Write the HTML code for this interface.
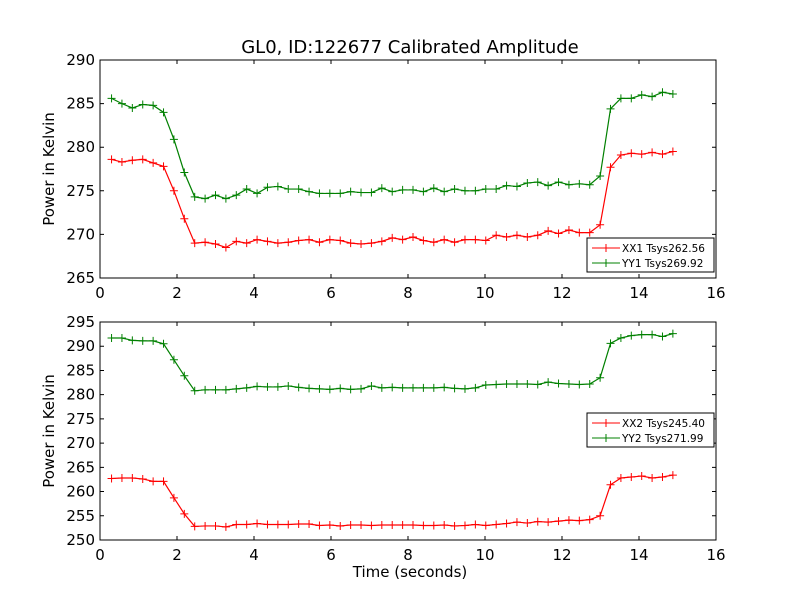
<!DOCTYPE html>
<html><head><meta charset="utf-8"><style>
body{margin:0;background:#fff}
svg text{font-family:"DejaVu Sans","Liberation Sans",sans-serif}
</style></head><body>
<svg id="c" width="800" height="600" xmlns="http://www.w3.org/2000/svg">
<rect width="800" height="600" fill="#fff"/>
</svg>
<script>
const times = Array.from({length:55},(_, i)=>+(0.3+i*0.27).toFixed(3));
const xx1 = [278.6,278.3,278.5,278.6,278.2,277.8,275.0,271.8,269.0,269.1,
268.9,268.5,269.2,269.0,269.4,269.2,269.0,269.1,269.3,269.4,
269.1,269.4,269.3,269.0,268.9,269.0,269.2,269.6,269.4,269.7,
269.3,269.1,269.4,269.1,269.4,269.4,269.3,269.9,269.7,269.9,
269.7,269.9,270.4,270.1,270.5,270.2,270.2,271.1,277.7,279.1,
279.3,279.2,279.4,279.2,279.5];
const yy1 = [285.6,285.0,284.5,284.9,284.8,284.0,280.9,277.1,274.3,274.1,
274.5,274.1,274.5,275.2,274.7,275.4,275.5,275.2,275.2,274.9,
274.7,274.7,274.7,274.9,274.8,274.8,275.3,274.9,275.1,275.1,
274.9,275.3,274.9,275.2,275.0,275.0,275.2,275.2,275.6,275.5,
275.9,276.0,275.6,276.0,275.7,275.8,275.7,276.7,284.4,285.6,
285.6,286.0,285.8,286.3,286.1];
const xx2 = [262.7,262.8,262.8,262.6,262.1,262.1,258.7,255.4,252.8,252.9,
252.9,252.7,253.2,253.2,253.4,253.2,253.2,253.2,253.3,253.3,
253.0,253.1,252.9,253.1,253.1,253.0,253.1,253.1,253.1,253.1,
253.0,253.0,253.1,252.9,253.0,253.2,253.0,253.2,253.4,253.7,
253.5,253.8,253.7,253.9,254.1,254.0,254.2,255.0,261.4,262.8,
263.0,263.2,262.8,263.0,263.4];
const yy2 = [291.7,291.7,291.2,291.1,291.1,290.5,287.2,283.9,280.8,281.0,
281.0,281.0,281.2,281.4,281.7,281.6,281.6,281.8,281.5,281.3,
281.2,281.1,281.3,281.1,281.2,281.8,281.4,281.5,281.4,281.4,
281.4,281.4,281.5,281.3,281.2,281.4,282.0,282.1,282.2,282.2,
282.2,282.1,282.6,282.3,282.2,282.1,282.2,283.5,290.6,291.7,
292.2,292.4,292.4,292.0,292.6];
const xTicks = [0,2,4,6,8,10,12,14,16];
const yTicksTop = [265,270,275,280,285,290];
const yTicksBot = [250,255,260,265,270,275,280,285,290,295];
const legendTop = ["XX1 Tsys262.56","YY1 Tsys269.92"];
const legendBot = ["XX2 Tsys245.40","YY2 Tsys271.99"];

const NS="http://www.w3.org/2000/svg", svg=document.getElementById('c');
function el(tag,attrs,parent){const e=document.createElementNS(NS,tag);for(const k in attrs)e.setAttribute(k,attrs[k]);(parent||svg).appendChild(e);return e;}
function txt(s,attrs,parent){const t=el('text',attrs,parent);t.textContent=s;return t;}

function panel(name,top,bottom,ymin,ymax,yTicks,series,labels,legY){
  const L=100,R=716;
  const g=el('g',{});
  
  
  const sx=v=>L+(v-0)/(16-0)*(R-L);
  const sy=v=>bottom-(v-ymin)/(ymax-ymin)*(bottom-top);
  series.forEach((s,si)=>{
    const sg=el('g',{},g);
    
    
    const pts=s.vals.map((v,i)=>sx(times[i])+','+sy(v)).join(' ');
    el('polyline',{points:pts,fill:'none',stroke:s.c,'stroke-width':1.2},sg);
    s.vals.forEach((v,i)=>{const x=sx(times[i]),y=sy(v);
      el('path',{d:`M${x-4},${y}H${x+4}M${x},${y-4}V${y+4}`,stroke:s.c,'stroke-width':1},sg);});
  });
  el('rect',{x:L,y:top,width:R-L,height:bottom-top,fill:'none',stroke:'#000','stroke-width':1},g);
  xTicks.forEach(t=>{const x=sx(t);
    el('path',{d:`M${x},${bottom}v-4M${x},${top}v4`,stroke:'#000'},g);
    const lb=txt(String(t),{x:x,y:bottom+20,'font-size':15,'text-anchor':'middle'},g);
    
    });
  yTicks.forEach(t=>{const y=sy(t);
    el('path',{d:`M${L},${y}h4M${R},${y}h-4`,stroke:'#000'},g);
    const lb=txt(String(t),{x:L-5,y:y+5,'font-size':15,'text-anchor':'end'},g);
    
    });
  const yl=txt('Power in Kelvin',{x:0,y:0,'font-size':15,'text-anchor':'middle',transform:`translate(54,${(top+bottom)/2}) rotate(-90)`},g);
  
  
  const lg=el('g',{},g);
  
  
  el('rect',{x:587,y:legY,width:127,height:34,fill:'#fff',stroke:'#000'},lg);
  labels.forEach((lab,i)=>{const y=legY+10+i*15;
    el('path',{d:`M592,${y}h28M606,${y-4}v8`,stroke:series[i].c,'stroke-width':1},lg);
    const e=txt(lab,{x:622,y:y+4,'font-size':10.5},lg);
    
    });
}
const title=txt('GL0, ID:122677 Calibrated Amplitude',{x:410,y:53,'font-size':18,'text-anchor':'middle'});


panel('top-panel',60,278,265,290,yTicksTop,[{vals:xx1,c:'#ff0000'},{vals:yy1,c:'#008000'}],legendTop,238);
panel('bottom-panel',322,540,250,295,yTicksBot,[{vals:xx2,c:'#ff0000'},{vals:yy2,c:'#008000'}],legendBot,413);
const xt=txt('Time (seconds)',{x:410,y:577,'font-size':15,'text-anchor':'middle'});


</script>
</body></html>
